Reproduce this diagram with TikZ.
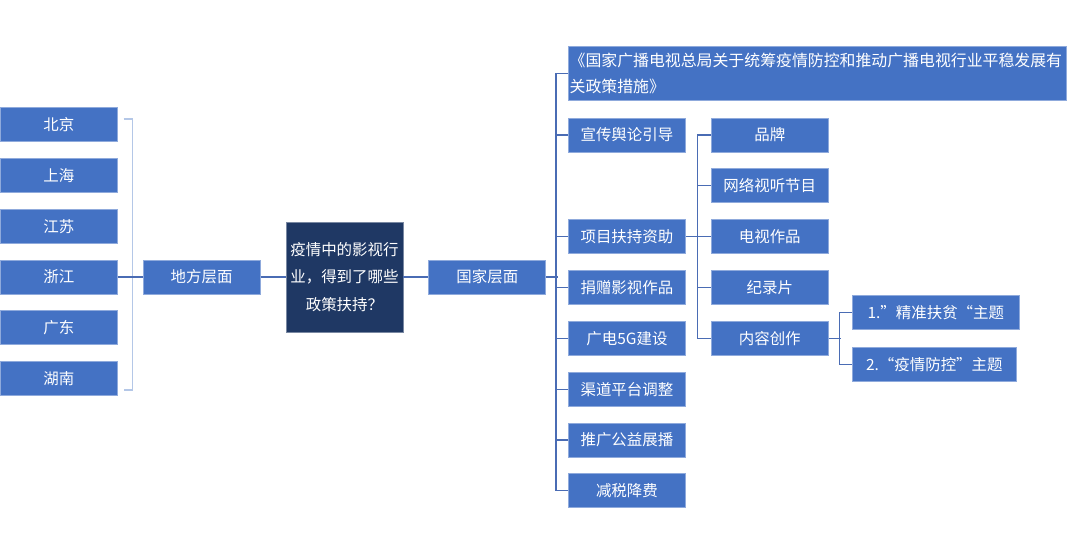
\documentclass[tikz,border=0pt]{standalone}
\usepackage{fontspec}
\setmainfont{Noto Sans CJK SC}
\usetikzlibrary{positioning}
\definecolor{BoxBlue}{RGB}{68, 114, 196}
\definecolor{BoxEdge}{RGB}{143, 170, 220}
\definecolor{BoxNavy}{RGB}{31, 56, 100}
\definecolor{LinkBlue}{RGB}{74, 108, 180}
\definecolor{PaleBlue}{RGB}{180, 199, 231}

\begin{document}
\begin{tikzpicture}[
          node distance=0.4cm,
          box/.style={draw=BoxEdge, fill=BoxBlue, line width=0.6pt, text=white,
                      font=\fontsize{11}{13}\selectfont, inner sep=0pt,
                      minimum width=2.925cm, minimum height=0.85cm, align=center},
          link/.style={LinkBlue, line width=0.8pt},
          bracket/.style={PaleBlue, line width=1.1pt}
        ]
        \fill[white] (0,0) rectangle (27,-13.875);
        \useasboundingbox (0,0) rectangle (27,-13.875);
        \node[box] (difang) at (5.04,-6.925) {地方层面};
        \node[box, left=0.625cm of difang] (zhejiang) {浙江};
        \node[box, above=of zhejiang] (jiangsu) {江苏};
        \node[box, above=of jiangsu] (shanghai) {上海};
        \node[box, above=of shanghai] (beijing) {北京};
        \node[box, below=of zhejiang] (guangdong) {广东};
        \node[box, below=of guangdong] (hunan) {湖南};
        \node[box, fill=BoxNavy, draw=BoxNavy!60, minimum height=2.75cm,
              font=\fontsize{11}{19.5}\selectfont, right=0.625cm of difang]
              (question) {疫情中的影视行\\业，得到了哪些\\政策扶持？};
        \node[box, right=0.625cm of question] (guojia) {国家层面};
        \node[box, anchor=west] (xuanchuan) at (14.2,-3.375) {宣传舆论引导};
        \node[box, above right=0.42cm and 0cm of xuanchuan.north west,
              minimum width=12.45cm, minimum height=1.35cm, align=left,
              text width=12.4cm, inner xsep=0.03cm,
              font=\fontsize{11.3}{18.5}\selectfont]
              (cuoshi) {《国家广播电视总局关于统筹疫情防控和推动广播电视行业平稳发展有\\关政策措施》};
        \node[box, below=1.67cm of xuanchuan] (xiangmu) {项目扶持资助};
        \node[box, below=of xiangmu] (juanzeng) {捐赠影视作品};
        \node[box, below=of juanzeng] (wuG) {广电5G建设};
        \node[box, below=of wuG] (qudao) {渠道平台调整};
        \node[box, below=of qudao] (tuiguang) {推广公益展播};
        \node[box, below=of tuiguang] (jianshui) {减税降费};
        \node[box, right=0.625cm of xiangmu] (dianshi) {电视作品};
        \node[box, above=of dianshi] (wangluo) {网络视听节目};
        \node[box, above=of wangluo] (pinpai) {品牌};
        \node[box, below=of dianshi] (jilu) {纪录片};
        \node[box, below=of jilu] (neirong) {内容创作};
        \node[box, minimum width=4.175cm, anchor=south west]
              (fupin) at ([xshift=0.58cm, yshift=0.215cm]neirong.east) {1.”精准扶贫“主题};
        \node[box, minimum width=4.1cm, anchor=north west]
              (fangkong) at ([xshift=0.58cm, yshift=-0.215cm]neirong.east) {2.“疫情防控”主题};
        \draw[bracket] ([xshift=0.15cm, yshift=-0.3cm]beijing.north east) -- ++(0.225,0)
              |- ([xshift=0.15cm, yshift=0.15cm]hunan.south east);
        \foreach \x/\y in {zhejiang/difang, difang/question, question/guojia, xiangmu/dianshi}
          \draw[link] (\x)--(\y);
        \draw[link] (guojia.east) -- ++(0.3,0);
        \draw[link] (cuoshi.west) -- ++(-0.3,0) |- (jianshui.west);
        \foreach \n in {xuanchuan, xiangmu, juanzeng, wuG, qudao, tuiguang}
          \draw[link] (\n.west) -- ++(-0.3,0);
        \draw[link] (pinpai.west) -- ++(-0.325,0) |- (neirong.west);
        \foreach \n in {wangluo, dianshi, jilu}
          \draw[link] (\n.west) -- ++(-0.325,0);
        \draw[link] (neirong.east) -- ++(0.3,0);
        \draw[link] (fupin.west) -- ++(-0.3,0) |- (fangkong.west);
      \end{tikzpicture}
\end{document}
